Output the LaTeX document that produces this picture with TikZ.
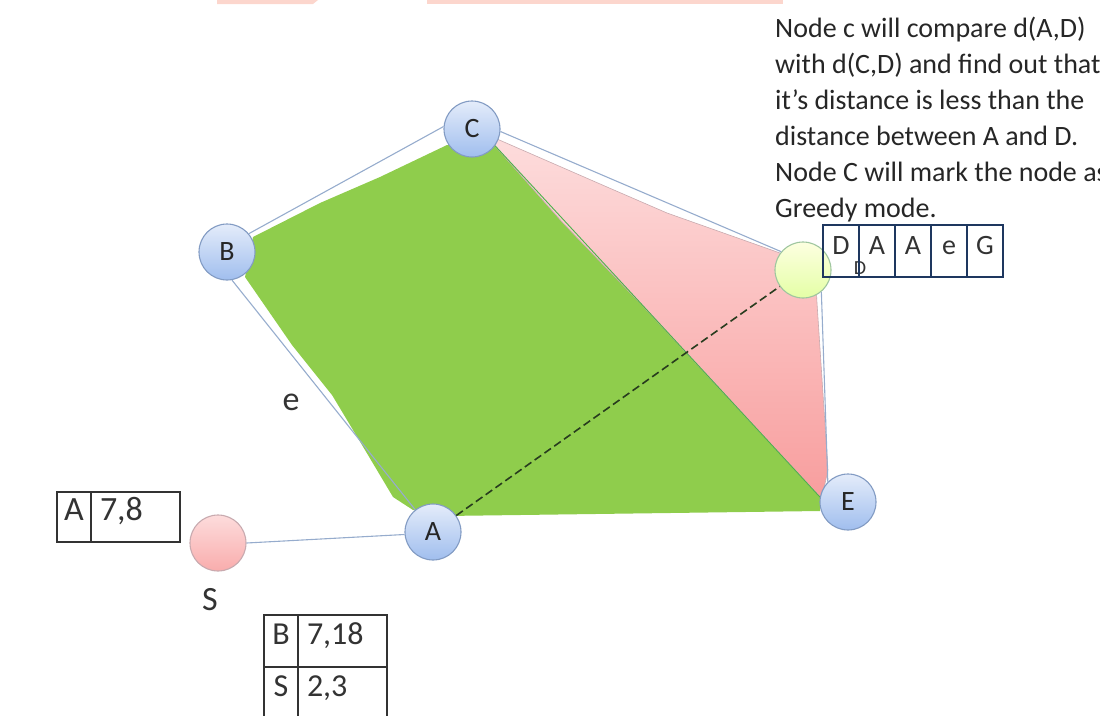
\documentclass[tikz,border=0pt]{standalone}
\usepackage{fontspec}
\setmainfont{Carlito}
\usetikzlibrary{positioning}

\definecolor{nodeblue}{RGB}{160,190,238}
\definecolor{nodebluetop}{RGB}{228,236,250}
\definecolor{nodeedge}{RGB}{130,155,195}
\definecolor{edgeline}{RGB}{150,172,205}
\definecolor{fillgreen}{RGB}{143,205,76}
\definecolor{pinktop}{RGB}{253,220,220}
\definecolor{pinkbot}{RGB}{248,158,158}
\definecolor{pinkedge}{RGB}{200,170,175}
\definecolor{tablenavy}{RGB}{30,55,95}
\definecolor{dashgreen}{RGB}{40,60,30}
\definecolor{stripink}{RGB}{252,214,205}

\begin{document}
\begin{tikzpicture}[x=1pt, y=-1pt,
    vertex/.style={circle, minimum size=56pt, inner sep=0pt, draw=nodeedge, line width=1.1pt,
        top color=nodebluetop, bottom color=nodeblue, font=\fontsize{28}{28}\selectfont, text=black!85},
    source/.style={vertex, draw=pinkedge, top color=pinktop, bottom color=pinkbot!85},
    target/.style={vertex, draw=green!25!gray!60, top color=green!6!yellow!12, bottom color=green!30!yellow!35},
    link/.style={edgeline, line width=1.1pt},
    lbl/.style={font=\fontsize{34}{34}\selectfont, text=black!80},
    dcell/.style={draw=tablenavy, line width=2pt, outer sep=0pt, minimum width=36pt, minimum height=52pt,
        inner sep=0pt, text height=0.7em, text depth=0pt, font=\fontsize{28}{28}\selectfont, text=black!80},
    keycell/.style={draw=black!80, line width=1.4pt, outer sep=0pt, minimum width=34pt, minimum height=52pt,
        inner sep=0pt, text height=0.66em, text depth=0pt, font=\fontsize{32}{32}\selectfont, text=black!80},
    valcell/.style={keycell, text width=71pt, inner xsep=9pt, align=left},
    note/.style={align=left, inner sep=0pt, font=\fontsize{28}{36}\selectfont, text=black!85}]

    \useasboundingbox (0,0) rectangle (1100,715);
    \clip (0,0) rectangle (1100,715);

    % Strips of the cut-off title
    \fill[stripink] (217,0) -- (318,0) -- (313,4) -- (217,4) -- cycle;
    \fill[stripink] (427,0) rectangle (783,4);

    % Green region
    \fill[fillgreen] (253,237) -- (320,203) -- (380,177) -- (447,145) -- (495,146)
        -- (563,223) -- (640,303) -- (820,497) -- (820,511) -- (445,516) -- (413,510)
        -- (393,497) -- (362,445) -- (332,395) -- (292,345) -- (245,277) -- cycle;
    % Pink region
    \shade[top color=pinktop, bottom color=pinkbot, draw=pinkedge, line width=0.6pt]
        (497,139) -- (607,187) -- (667,213) -- (780,253) -- (815,265) -- (817,303)
        -- (828,470) -- (822,497) -- (820,497) -- (640,303) -- (563,223) -- (495,146) -- cycle;

    % Nodes
    \node[vertex] (C) at (472,129) {C};
    \node[vertex] (B) at (227,252) {B};
    \node[target] (D) at (803,270) {};
    \node[vertex] (E) at (848,502) {E};
    \node[vertex] (A) at (433,532) {A};
    \node[source] (S) at (218,543) {};

    % Edges
    \draw[link] (B.40) -- (C.175);
    \draw[link] (C.-5) -- (D.140);
    \draw[link] (D.-50) -- (E.135);
    \draw[link] (B.-80) -- (A);
    \draw[link] (S.east) -- (A.185);
    \draw[green!40!gray, line width=0.9pt] (C.-36) -- (E.170);
    \draw[dashgreen, line width=1.6pt, dash pattern=on 8pt off 4pt] (A) -- (D);

    % Labels
    \node[lbl] (slabel) at (210,600) {S};
    \node[lbl] (elabel) at (291,402) {e};
    \node[font=\fontsize{20}{20}\selectfont, text=black!80] (dlabel) at (860,268) {D};

    % Table beside D
    \node[dcell] (d1) at (841,251) {D};
    \node[dcell, right=0pt of d1] (d2) {A};
    \node[dcell, right=0pt of d2] (d3) {A};
    \node[dcell, right=0pt of d3] (d4) {e};
    \node[dcell, right=0pt of d4] (d5) {G};

    % Table beside S
    \node[keycell, minimum height=50pt, font=\fontsize{34}{34}\selectfont] (ta1) at (74,517) {A};
    \node[valcell, minimum height=50pt, font=\fontsize{34}{34}\selectfont, right=0pt of ta1] (tv0) {7,8};

    % Table below A
    \node[keycell] (tb1) at (281,641) {B};
    \node[valcell, right=0pt of tb1] (tv1) {7,18};
    \node[keycell, below=0pt of tb1] (tb2) {S};
    \node[valcell, right=0pt of tb2] (tv2) {2,3};

    % Note
    \node[note, anchor=north west] (note) at (775,17) {Node c will compare d(A,D)\\
        with d(C,D) and find out that\\
        it’s distance is less than the\\
        distance between A and D.\\
        Node C will mark the node as\\
        Greedy mode.};
\end{tikzpicture}
\end{document}
